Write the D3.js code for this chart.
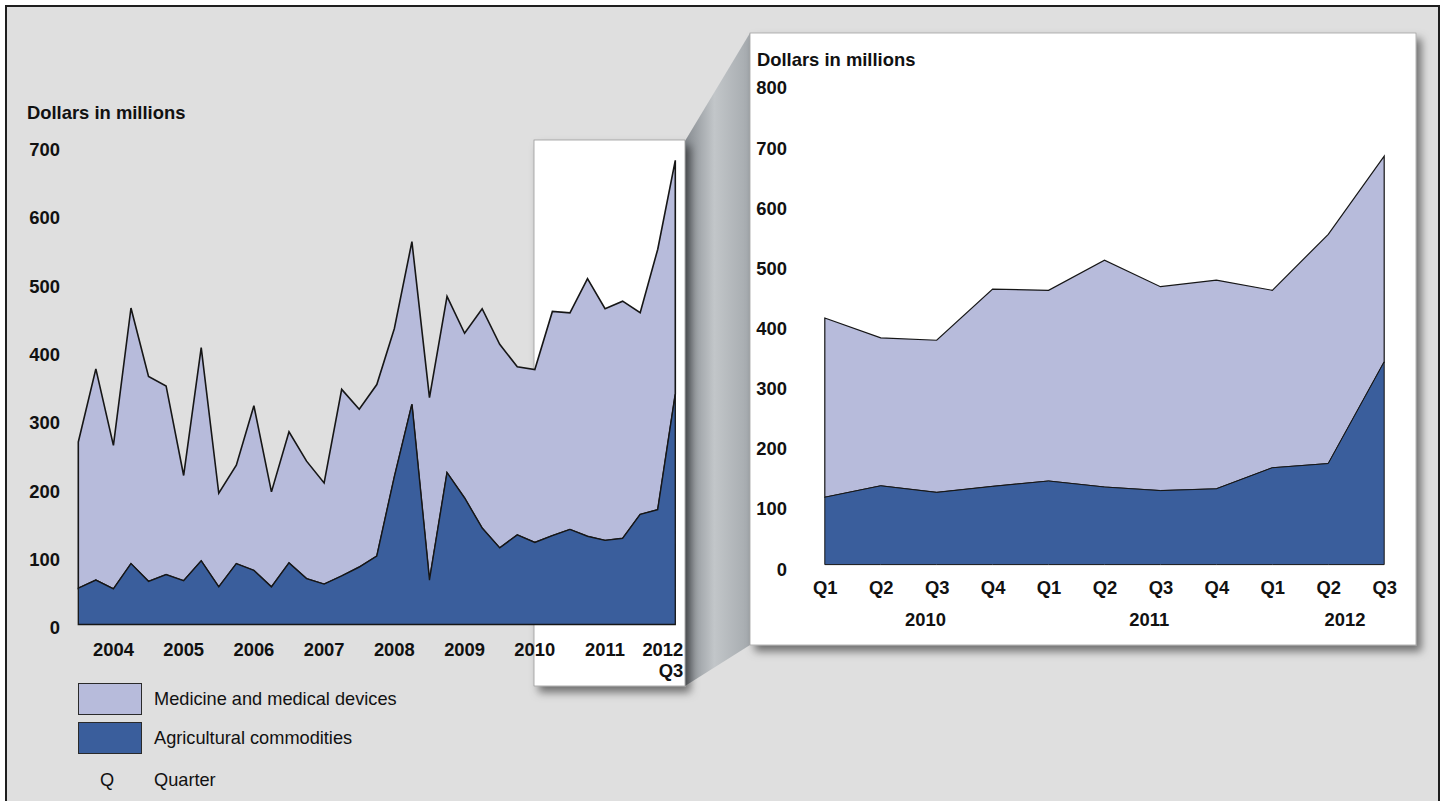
<!DOCTYPE html>
<html>
<head>
<meta charset="utf-8">
<script src="https://cdn.jsdelivr.net/npm/d3@7"></script>
<style>
  html, body { margin: 0; padding: 0; background: #ffffff; }
  svg { display: block; font-family: "Liberation Sans", Arial, sans-serif; }
  .tick text { font-size: 18.4px; font-weight: bold; fill: #111; }
</style>
</head>
<body>
<svg id="chart" width="1444" height="801"></svg>
<script>
// ---------- DATA ----------
const periods = [
  "2004 Q1","2004 Q2","2004 Q3","2004 Q4",
  "2005 Q1","2005 Q2","2005 Q3","2005 Q4",
  "2006 Q1","2006 Q2","2006 Q3","2006 Q4",
  "2007 Q1","2007 Q2","2007 Q3","2007 Q4",
  "2008 Q1","2008 Q2","2008 Q3","2008 Q4",
  "2009 Q1","2009 Q2","2009 Q3","2009 Q4",
  "2010 Q1","2010 Q2","2010 Q3","2010 Q4",
  "2011 Q1","2011 Q2","2011 Q3","2011 Q4",
  "2012 Q1","2012 Q2","2012 Q3"
];
// Agricultural commodities (dollars in millions)
const agricultural = [53, 65, 52, 89, 63, 73, 64, 93, 55, 89, 79, 55, 90, 67, 59, 71, 84, 100, 216, 322,
  65, 222, 185, 141, 112, 131, 120, 130, 139, 129, 123, 126, 161, 168, 337];
// Medicine and medical devices (dollars in millions, stacked on top of agricultural)
const medicine = [214, 309, 210, 374, 300, 276, 154, 312, 137, 144, 241, 139, 192, 172, 148, 273, 231, 251, 217, 238,
  267, 258, 241, 321, 298, 246, 253, 328, 317, 377, 339, 347, 295, 381, 342];

const leftYTicks = [0, 100, 200, 300, 400, 500, 600, 700];
const rightYTicks = [0, 100, 200, 300, 400, 500, 600, 700, 800];
const yearLabels = ["2004","2005","2006","2007","2008","2009","2010","2011","2012"];
const zoomStart = "2010 Q1";
const zoomYears = ["2010","2011","2012"];
const seriesNames = ["Medicine and medical devices", "Agricultural commodities"];
const colors = { medicine: "#b7bbdb", agricultural: "#3a5e9c" };

// ---------- BUILD ----------
const table = periods.map((p, i) => ({ period: p, agricultural: agricultural[i], medicine: medicine[i] }));
const stack = d3.stack().keys(["agricultural", "medicine"]);

const svg = d3.select("#chart");
const defs = svg.append("defs");
const shadow = defs.append("filter").attr("id", "shadow")
  .attr("x", "-10%").attr("y", "-10%").attr("width", "125%").attr("height", "125%");
shadow.append("feDropShadow").attr("dx", 5).attr("dy", 6).attr("stdDeviation", 4)
  .attr("flood-color", "#000").attr("flood-opacity", 0.5);
const grad = defs.append("linearGradient").attr("id", "conn").attr("x1", "0").attr("x2", "1").attr("y1", "0").attr("y2", "0");
grad.append("stop").attr("offset", "0%").attr("stop-color", "#868b90");
grad.append("stop").attr("offset", "45%").attr("stop-color", "#c2c6c9");
grad.append("stop").attr("offset", "100%").attr("stop-color", "#a5aaae");

// frame
svg.append("rect").attr("x", 6).attr("y", 6).attr("width", 1433).attr("height", 820)
  .attr("fill", "#dfdfdf").attr("stroke", "#1e1e1e").attr("stroke-width", 2);

// connector
svg.append("path")
  .attr("d", "M685,141 L750,33 L750,645 L685,686 Z")
  .attr("fill", "url(#conn)");

// left highlight box
svg.append("rect").attr("x", 534).attr("y", 140).attr("width", 151).attr("height", 546)
  .attr("fill", "#ffffff").attr("stroke", "#9a9a9a").attr("stroke-width", 0.8)
  .attr("filter", "url(#shadow)");

// ---------- LEFT CHART ----------
const xL = d3.scalePoint().domain(periods).range([78.3, 675.3]);
const yL = d3.scaleLinear().domain([0, 700]).range([624.5, 146]);
const stackedL = stack(table);
const areaL = d3.area().x(d => xL(d.data.period)).y0(d => yL(d[0])).y1(d => yL(d[1]));
const gL = svg.append("g");
gL.append("path").datum(stackedL[1]).attr("d", areaL)
  .attr("fill", colors.medicine).attr("stroke", "#161616").attr("stroke-width", 1.6).attr("stroke-linejoin", "miter");
gL.append("path").datum(stackedL[0]).attr("d", areaL)
  .attr("fill", colors.agricultural).attr("stroke", "#161616").attr("stroke-width", 1.3);

const axL = svg.append("g").attr("transform", "translate(60,3)")
  .call(d3.axisLeft(yL).tickValues(leftYTicks).tickSize(0).tickPadding(0));
axL.select(".domain").remove();
axL.selectAll("text").attr("dy", "0.35em");

svg.append("text").attr("x", 27).attr("y", 119).text("Dollars in millions")
  .attr("font-size", 18.4).attr("font-weight", "bold").attr("fill", "#111");

// year labels left (at Q3 of each year; last year right-aligned to the end)
const lastPeriod = periods[periods.length - 1];
const gYL = svg.append("g");
yearLabels.forEach((yr, i) => {
  const isLast = i === yearLabels.length - 1;
  const px = isLast ? xL(lastPeriod) + 8 : xL(yr + " Q3");
  gYL.append("text").attr("x", px).attr("y", 656)
    .attr("text-anchor", isLast ? "end" : "middle")
    .attr("font-size", 18.4).attr("font-weight", "bold").attr("fill", "#111").text(yr);
});
gYL.append("text").attr("x", xL(lastPeriod) + 8).attr("y", 677).attr("text-anchor", "end")
  .attr("font-size", 18.4).attr("font-weight", "bold").attr("fill", "#111").text(lastPeriod.split(" ")[1]);

// ---------- RIGHT PANEL ----------
svg.append("rect").attr("x", 750).attr("y", 33).attr("width", 666).attr("height", 612)
  .attr("fill", "#ffffff").attr("stroke", "#a0a0a0").attr("stroke-width", 0.8)
  .attr("filter", "url(#shadow)");

const zi = periods.indexOf(zoomStart);
const zTable = table.slice(zi);
const zPeriods = zTable.map(d => d.period);
const xR = d3.scalePoint().domain(zPeriods).range([824.8, 1384.2]);
const yR = d3.scaleLinear().domain([0, 800]).range([564.6, 83.4]);
const stackedR = stack(zTable);
const areaR = d3.area().x(d => xR(d.data.period)).y0(d => yR(d[0])).y1(d => yR(d[1]));
const gR = svg.append("g");
gR.append("path").datum(stackedR[1]).attr("d", areaR)
  .attr("fill", colors.medicine).attr("stroke", "#161616").attr("stroke-width", 1.2);
gR.append("path").datum(stackedR[0]).attr("d", areaR)
  .attr("fill", colors.agricultural).attr("stroke", "#161616").attr("stroke-width", 1);

const axR = svg.append("g").attr("transform", "translate(787,4)")
  .call(d3.axisLeft(yR).tickValues(rightYTicks).tickSize(0).tickPadding(0));
axR.select(".domain").remove();
axR.selectAll("text").attr("dy", "0.35em");

svg.append("text").attr("x", 757).attr("y", 66).text("Dollars in millions")
  .attr("font-size", 18.4).attr("font-weight", "bold").attr("fill", "#111");

const axRX = svg.append("g").attr("transform", "translate(0,581)")
  .call(d3.axisBottom(xR).tickSize(0).tickPadding(0).tickFormat(p => p.split(" ")[1]));
axRX.select(".domain").remove();
axRX.selectAll("text").attr("dy", "0.71em");

zoomYears.forEach(yr => {
  const qs = zPeriods.filter(p => p.startsWith(yr));
  const cx = (xR(qs[0]) + xR(qs[qs.length - 1])) / 2 + xR.step() * 0.3;
  svg.append("text").attr("x", cx).attr("y", 626).attr("text-anchor", "middle")
    .attr("font-size", 18.4).attr("font-weight", "bold").attr("fill", "#111").text(yr);
});

// ---------- LEGEND ----------
const leg = svg.append("g");
const legItems = [
  { name: seriesNames[0], color: colors.medicine },
  { name: seriesNames[1], color: colors.agricultural }
];
legItems.forEach((d, i) => {
  const y0 = 683 + i * 39;
  leg.append("rect").attr("x", 78.5).attr("y", y0 + 0.5).attr("width", 63).attr("height", 31)
    .attr("fill", d.color).attr("stroke", "#2a2a2a").attr("stroke-width", 1);
  leg.append("text").attr("x", 154).attr("y", y0 + 16).attr("dy", "0.35em")
    .attr("font-size", 18.2).attr("fill", "#111").text(d.name);
});
leg.append("text").attr("x", 107).attr("y", 780).attr("dy", "0.35em").attr("text-anchor", "middle")
  .attr("font-size", 18.2).attr("fill", "#111").text("Q");
leg.append("text").attr("x", 154).attr("y", 780).attr("dy", "0.35em")
  .attr("font-size", 18.2).attr("fill", "#111").text("Quarter");
</script>
</body>
</html>
